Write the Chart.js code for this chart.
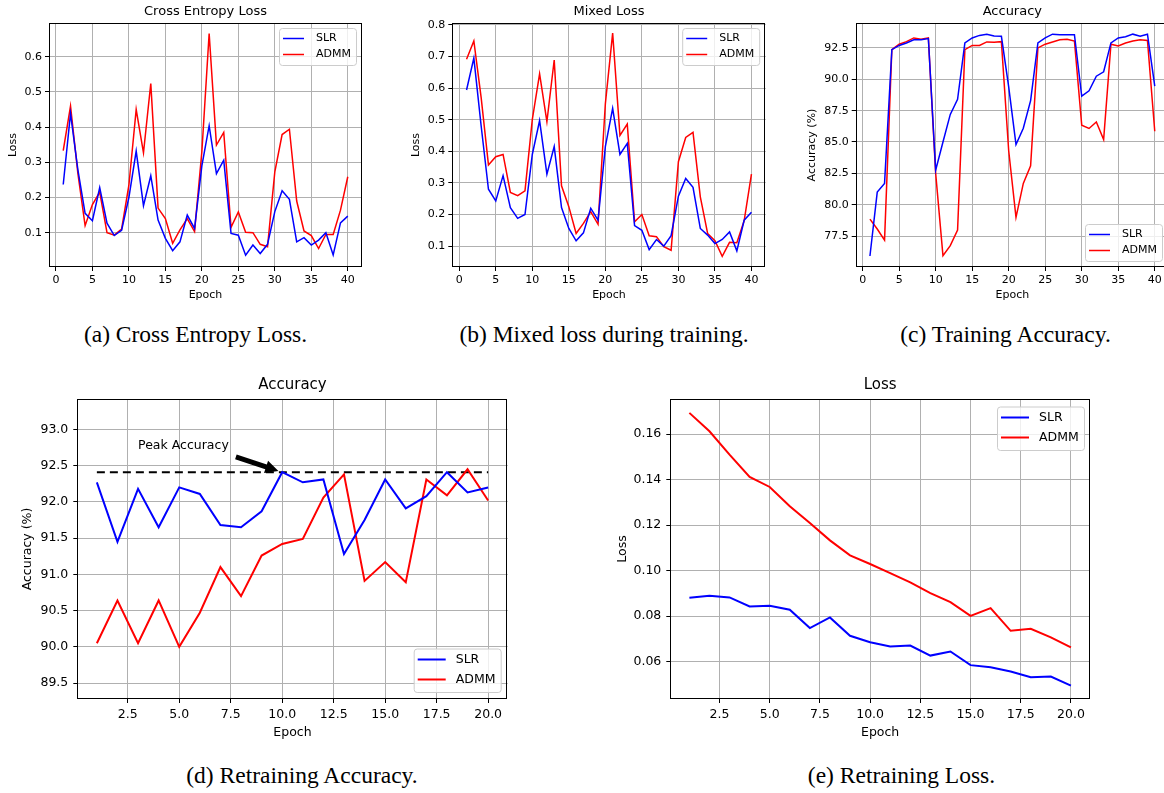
<!DOCTYPE html>
<html>
<head>
<meta charset="utf-8">
<script src="https://cdn.jsdelivr.net/npm/chart.js@4.4.0/dist/chart.umd.min.js"></script>
<style>
body { margin: 0; background: #fff; width: 1164px; height: 793px; overflow: hidden; position: relative; }
canvas { position: absolute; }
.cap { position: absolute; font-family: "Liberation Serif", "Times New Roman", serif; font-size: 23.5px; line-height: 24px; white-space: nowrap; transform: translateX(-50%); color: #000; }
</style>
</head>
<body>
<canvas id="ce" width="372" height="305" style="left:0;top:0"></canvas>
<canvas id="mixed" width="385" height="305" style="left:390px;top:0"></canvas>
<canvas id="acc" width="400" height="305" style="left:780px;top:0"></canvas>
<canvas id="reacc" width="518" height="375" style="left:0;top:370px"></canvas>
<canvas id="reloss" width="510" height="375" style="left:590px;top:370px"></canvas>

<div class="cap" style="left:195.5px;top:322px">(a) Cross Entropy Loss.</div>
<div class="cap" style="left:604px;top:322px">(b) Mixed loss during training.</div>
<div class="cap" style="left:1005.5px;top:322px">(c) Training Accuracy.</div>
<div class="cap" style="left:302px;top:763px">(d) Retraining Accuracy.</div>
<div class="cap" style="left:901.5px;top:763px">(e) Retraining Loss.</div>

<script>
// epochs
const epochs40 = [1,2,3,4,5,6,7,8,9,10,11,12,13,14,15,16,17,18,19,20,
                  21,22,23,24,25,26,27,28,29,30,31,32,33,34,35,36,37,38,39,40];
const epochs20 = [1,2,3,4,5,6,7,8,9,10,11,12,13,14,15,16,17,18,19,20];

// (a) cross entropy loss
const ceSLR  = [0.237,0.439,0.28,0.155,0.134,0.228,0.127,0.092,0.107,0.2,
                0.332,0.177,0.262,0.136,0.084,0.049,0.074,0.15,0.112,0.29,
                0.404,0.268,0.306,0.098,0.093,0.036,0.065,0.041,0.067,0.16,
                0.219,0.195,0.074,0.086,0.065,0.079,0.1,0.037,0.128,0.147];
const ceADMM = [0.333,0.46,0.27,0.12,0.18,0.215,0.1,0.093,0.11,0.235,
                0.45,0.327,0.524,0.17,0.14,0.07,0.108,0.14,0.103,0.33,
                0.666,0.349,0.385,0.115,0.159,0.101,0.1,0.067,0.06,0.273,
                0.379,0.394,0.19,0.105,0.092,0.055,0.095,0.095,0.164,0.259];

// (b) mixed loss
const mixSLR  = [0.594,0.695,0.48,0.28,0.243,0.323,0.222,0.188,0.2,0.39,
                 0.497,0.328,0.415,0.222,0.156,0.117,0.142,0.22,0.182,0.415,
                 0.536,0.39,0.425,0.165,0.15,0.089,0.121,0.1,0.133,0.258,
                 0.314,0.286,0.156,0.135,0.108,0.121,0.145,0.085,0.182,0.207];
const mixADMM = [0.691,0.749,0.57,0.357,0.383,0.39,0.27,0.26,0.275,0.5,
                 0.645,0.494,0.689,0.291,0.225,0.14,0.172,0.209,0.169,0.55,
                 0.774,0.45,0.486,0.177,0.2,0.133,0.13,0.098,0.087,0.367,
                 0.444,0.46,0.256,0.14,0.117,0.068,0.112,0.111,0.18,0.328];

// (c) training accuracy
const accSLR  = [75.91,81.0,81.7,92.37,92.7,92.9,93.15,93.15,93.25,82.76,
                 85.0,87.2,88.4,92.9,93.3,93.5,93.6,93.45,93.43,89.4,
                 84.8,86.1,88.3,92.9,93.3,93.6,93.55,93.55,93.55,88.65,
                 89.08,90.25,90.6,92.9,93.3,93.4,93.6,93.43,93.6,89.45];
const accADMM = [78.85,78.06,77.18,92.37,92.8,93.0,93.3,93.2,93.3,82.5,
                 75.93,76.73,77.98,92.37,92.7,92.7,92.98,92.95,93.0,84.3,
                 78.99,81.7,83.1,92.5,92.8,92.98,93.15,93.2,93.05,86.34,
                 86.08,86.6,85.2,92.8,92.66,92.9,93.05,93.15,93.1,85.86];

// (d) retraining accuracy
const reAccSLR  = [92.27,91.45,92.18,91.65,92.2,92.11,91.68,91.65,91.87,92.41,
                   92.27,92.31,91.28,91.75,92.31,91.91,92.08,92.41,92.13,92.2];
const reAccADMM = [90.05,90.64,90.05,90.64,90.0,90.47,91.1,90.7,91.26,91.42,
                   91.49,92.06,92.38,90.91,91.17,90.89,92.31,92.09,92.45,92.02];
const peakEpoch = 10;
const peakAcc = 92.41;
const peakLabel = "Peak Accuracy";
const peakLabelAt = [3, 92.77];
const peakArrowFrom = [7.75, 92.62];

// (e) retraining loss
const reLossSLR  = [0.088,0.0889,0.0882,0.0842,0.0845,0.0828,0.0747,0.0794,0.0713,0.0685,
                    0.0666,0.067,0.0626,0.0644,0.0584,0.0575,0.0556,0.0531,0.0534,0.0494];
const reLossADMM = [0.1694,0.1613,0.151,0.1412,0.1368,0.1283,0.1209,0.1133,0.1067,0.1029,
                    0.0989,0.0948,0.0901,0.0861,0.0801,0.0835,0.0735,0.0744,0.0706,0.0662];

// tick values
const epochTicks40 = [0,5,10,15,20,25,30,35,40];
const epochTicks20 = [2.5,5,7.5,10,12.5,15,17.5,20];
const ceTicks = [0.1,0.2,0.3,0.4,0.5,0.6];
const mixTicks = [0.1,0.2,0.3,0.4,0.5,0.6,0.7,0.8];
const accTicks = [77.5,80,82.5,85,87.5,90,92.5];
const reAccTicks = [89.5,90,90.5,91,91.5,92,92.5,93];
const reLossTicks = [0.06,0.08,0.1,0.12,0.14,0.16];

Chart.defaults.font.family = '"DejaVu Sans", sans-serif';
Chart.defaults.color = '#000';

const pts = (xs, ys) => xs.map((x, i) => ({x: x, y: ys[i]}));

const framePlugin = {
  id: 'frame',
  afterDatasetsDraw(chart) {
    const a = chart.chartArea, ctx = chart.ctx;
    ctx.save();
    ctx.strokeStyle = '#000';
    ctx.lineWidth = 1;
    ctx.strokeRect(Math.round(a.left) + 0.5, Math.round(a.top) + 0.5,
                   Math.round(a.right - a.left) - 1, Math.round(a.bottom - a.top) - 1);
    ctx.restore();
  }
};

// axes title, centred over the plot area like matplotlib
function titlePlugin(o) {
  return {
    id: 'axTitle',
    afterDraw(chart) {
      const a = chart.chartArea, ctx = chart.ctx;
      ctx.save();
      ctx.font = o.titleSize + 'px "DejaVu Sans"';
      ctx.fillStyle = '#000';
      ctx.textAlign = 'center';
      ctx.textBaseline = 'middle';
      ctx.fillText(o.title, (a.left + a.right) / 2, o.titleTop + o.titleLH / 2);
      ctx.restore();
    }
  };
}

function legendPlugin(L) {
  return {
    id: 'mplLegend',
    afterDraw(chart) {
      const a = chart.chartArea, ctx = chart.ctx;
      const x = a.right - L.gapX - L.w;
      const y = L.corner === 'ur' ? a.top + L.gapY : a.bottom - L.gapY - L.h;
      ctx.save();
      ctx.beginPath();
      ctx.roundRect(x + 0.5, y + 0.5, L.w, L.h, 3);
      ctx.fillStyle = 'rgba(255,255,255,0.8)';
      ctx.fill();
      ctx.strokeStyle = '#cccccc';
      ctx.lineWidth = 1;
      ctx.stroke();
      ctx.font = L.fs + 'px "DejaVu Sans"';
      ctx.textBaseline = 'middle';
      ctx.textAlign = 'left';
      chart.data.datasets.slice(0, 2).forEach((d, i) => {
        const cy = y + L.rows[i];
        ctx.beginPath();
        ctx.moveTo(x + L.lineStart, cy);
        ctx.lineTo(x + L.lineStart + L.lineLen, cy);
        ctx.strokeStyle = d.borderColor;
        ctx.lineWidth = d.borderWidth;
        ctx.stroke();
        ctx.fillStyle = '#000';
        ctx.fillText(d.label, x + L.textX, cy);
      });
      ctx.restore();
    }
  };
}

const peakPlugin = {
  id: 'peak',
  afterDatasetsDraw(chart) {
    const xs = chart.scales.x, ys = chart.scales.y, ctx = chart.ctx;
    ctx.save();
    ctx.font = '12.5px "DejaVu Sans"';
    ctx.fillStyle = '#000';
    ctx.textBaseline = 'middle';
    ctx.textAlign = 'left';
    ctx.fillText(peakLabel, xs.getPixelForValue(peakLabelAt[0]), ys.getPixelForValue(peakLabelAt[1]));
    // arrow
    const tx = xs.getPixelForValue(peakArrowFrom[0]), ty = ys.getPixelForValue(peakArrowFrom[1]);
    let hx = xs.getPixelForValue(peakEpoch), hy = ys.getPixelForValue(peakAcc);
    const len = Math.hypot(hx - tx, hy - ty);
    const ux = (hx - tx) / len, uy = (hy - ty) / len;
    hx -= ux * 4; hy -= uy * 4;
    const nx = -uy, ny = ux;
    const hl = 13, hw = 6.5, bw = 2.5;
    const bx = hx - ux * hl, by = hy - uy * hl;
    ctx.beginPath();
    ctx.moveTo(tx + nx * bw, ty + ny * bw);
    ctx.lineTo(bx + nx * bw, by + ny * bw);
    ctx.lineTo(bx + nx * hw, by + ny * hw);
    ctx.lineTo(hx, hy);
    ctx.lineTo(bx - nx * hw, by - ny * hw);
    ctx.lineTo(bx - nx * bw, by - ny * bw);
    ctx.lineTo(tx - nx * bw, ty - ny * bw);
    ctx.closePath();
    ctx.fill();
    ctx.restore();
  }
};

function lineChart(id, o) {
  const grid = {color: '#b0b0b0', lineWidth: 1, tickColor: '#000', tickLength: 4};
  const datasets = o.series.map(s => ({
    label: s.label,
    data: pts(s.x, s.data),
    borderColor: s.color,
    borderWidth: s.width || o.lw,
    borderDash: s.dash || [],
    pointRadius: 0,
    tension: 0,
    fill: false
  }));
  return new Chart(document.getElementById(id), {
    type: 'line',
    data: {datasets: datasets},
    options: {
      responsive: false,
      animation: false,
      events: [],
      layout: {padding: {left: 0, top: o.titleTop + o.titleLH + o.titleBottom, right: o.padR, bottom: 0}},
      plugins: {
        legend: {display: false},
        tooltip: {enabled: false},
        title: {display: false}
      },
      scales: {
        x: {
          type: 'linear', min: o.xMin, max: o.xMax,
          afterFit: s => { s.height = o.xH; },
          afterBuildTicks: s => { s.ticks = o.xTicks.map(v => ({value: v})); },
          ticks: {font: {size: o.fs}, color: '#000', padding: o.xPad, autoSkip: false,
                  maxRotation: 0, callback: o.xFmt},
          grid: grid,
          border: {display: false},
          title: {display: true, text: 'Epoch', color: '#000',
                  font: {size: o.fs, lineHeight: o.axisLH + 'px'}, padding: {top: 0, bottom: o.xTitlePad}}
        },
        y: {
          type: 'linear', min: o.yMin, max: o.yMax,
          afterFit: s => { s.width = o.yW; },
          afterBuildTicks: s => { s.ticks = o.yTicks.map(v => ({value: v})); },
          ticks: {font: {size: o.fs}, color: '#000', padding: o.yPad, autoSkip: false,
                  callback: o.yFmt},
          grid: grid,
          border: {display: false},
          title: {display: true, text: o.yTitle, color: '#000',
                  font: {size: o.fs, lineHeight: o.axisLH + 'px'}, padding: {top: o.yTitlePad, bottom: 0}}
        }
      }
    },
    plugins: [framePlugin, titlePlugin(o), legendPlugin(o.legend)].concat(o.extra || [])
  });
}

const topRow = {
  lw: 1.5, fs: 11, axisLH: 13, titleSize: 13, titleLH: 16, titleTop: 4, titleBottom: 3,
  xMin: -0.95, xMax: 41.95, xTicks: epochTicks40, xH: 38, xPad: 3, xTitlePad: 3.5,
  xFmt: v => String(v), yPad: 3
};
const topLegend = {w: 77, h: 37, gapX: 6, gapY: 5, rows: [10.5, 26.5], lineStart: 4, lineLen: 21, textX: 37, fs: 11};
const botRow = {
  lw: 2, fs: 12.5, axisLH: 15, titleSize: 15, titleLH: 18, titleTop: 6, titleBottom: 5,
  xMin: 0.05, xMax: 20.95, xTicks: epochTicks20, xH: 46, xPad: 4.5, xTitlePad: 4.5,
  xFmt: v => v.toFixed(1), yPad: 5
};
const botLegend = {w: 87, h: 43.5, gapX: 7, gapY: 7, rows: [11, 31], lineStart: 4, lineLen: 28, textX: 42, fs: 12.5};

lineChart('ce', Object.assign({}, topRow, {
  title: 'Cross Entropy Loss', yTitle: 'Loss', padR: 10, yW: 49, yTitlePad: 6.5,
  yMin: 0.0025, yMax: 0.696, yTicks: ceTicks, yFmt: v => v.toFixed(1),
  legend: Object.assign({}, topLegend, {corner: 'ur'}),
  series: [
    {label: 'SLR', x: epochs40, data: ceSLR, color: '#0000ff'},
    {label: 'ADMM', x: epochs40, data: ceADMM, color: '#ff0000'}
  ]
}));

lineChart('mixed', Object.assign({}, topRow, {
  title: 'Mixed Loss', yTitle: 'Loss', padR: 9.3, yW: 62.3, yTitlePad: 19.5,
  yMin: 0.034, yMax: 0.806, yTicks: mixTicks, yFmt: v => v.toFixed(1),
  legend: Object.assign({}, topLegend, {corner: 'ur', gapX: 6.5}),
  series: [
    {label: 'SLR', x: epochs40, data: mixSLR, color: '#0000ff'},
    {label: 'ADMM', x: epochs40, data: mixADMM, color: '#ff0000'}
  ]
}));

lineChart('acc', Object.assign({}, topRow, {
  title: 'Accuracy', yTitle: 'Accuracy (%)', padR: 11, yW: 75.7, yTitlePad: 25.2,
  yMin: 75.03, yMax: 94.49, yTicks: accTicks, yFmt: v => v.toFixed(1),
  legend: Object.assign({}, topLegend, {corner: 'lr', gapX: 7, gapY: 6}),
  series: [
    {label: 'SLR', x: epochs40, data: accSLR, color: '#0000ff'},
    {label: 'ADMM', x: epochs40, data: accADMM, color: '#ff0000'}
  ]
}));

lineChart('reacc', Object.assign({}, botRow, {
  title: 'Accuracy', yTitle: 'Accuracy (%)', padR: 10.3, yW: 77.3, yTitlePad: 20.5,
  yMin: 89.28, yMax: 93.42, yTicks: reAccTicks, yFmt: v => v.toFixed(1),
  legend: Object.assign({}, botLegend, {corner: 'lr'}),
  extra: [peakPlugin],
  series: [
    {label: 'SLR', x: epochs20, data: reAccSLR, color: '#0000ff'},
    {label: 'ADMM', x: epochs20, data: reAccADMM, color: '#ff0000'},
    {label: 'peak', x: [epochs20[0], epochs20[epochs20.length - 1]], data: [peakAcc, peakAcc],
     color: '#000', width: 2, dash: [8, 5]}
  ]
}));

lineChart('reloss', Object.assign({}, botRow, {
  title: 'Loss', yTitle: 'Loss', padR: 10, yW: 80.3, yTitlePad: 24.8,
  yMin: 0.0435, yMax: 0.1755, yTicks: reLossTicks, yFmt: v => v.toFixed(2),
  legend: Object.assign({}, botLegend, {corner: 'ur', gapX: 6, gapY: 7.5}),
  series: [
    {label: 'SLR', x: epochs20, data: reLossSLR, color: '#0000ff'},
    {label: 'ADMM', x: epochs20, data: reLossADMM, color: '#ff0000'}
  ]
}));
</script>
</body>
</html>
